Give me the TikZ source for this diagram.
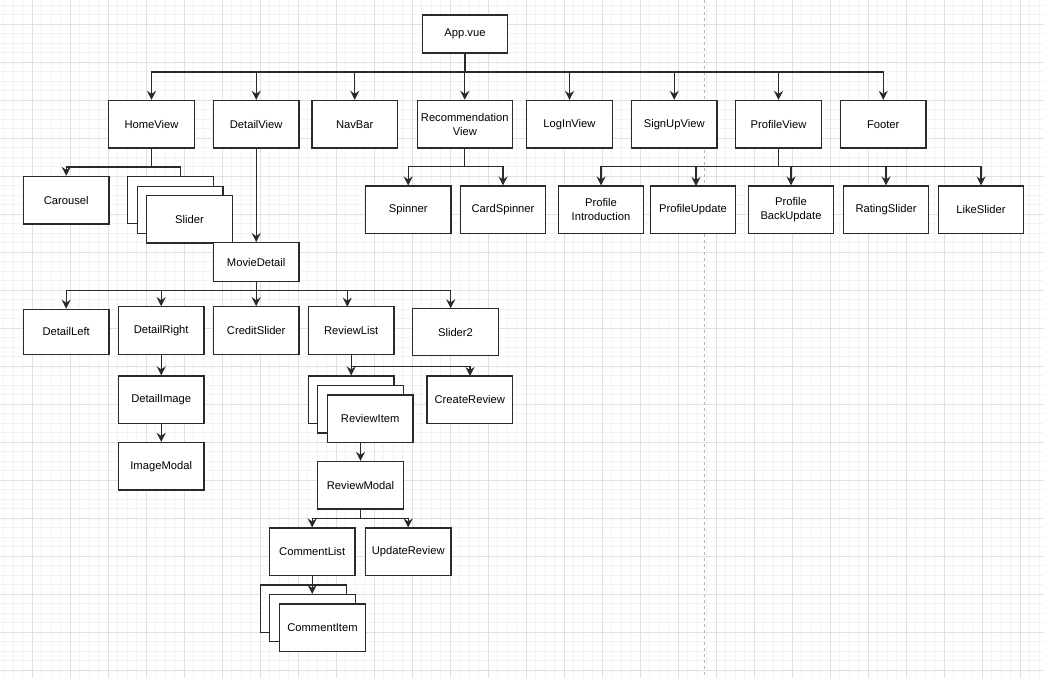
\documentclass[tikz,border=0pt]{standalone}
\usepackage{fontspec}
\setmainfont{Liberation Sans}
\usetikzlibrary{arrows.meta}
\definecolor{gridminor}{HTML}{F3F3F3}
\definecolor{gridmajor}{HTML}{E1E1E1}
\definecolor{ink}{HTML}{2A2A2A}
\tikzset{
  box/.style={draw=ink, line width=1.2pt, fill=white, minimum width=85.6pt, minimum height=47.5pt,
    inner sep=0pt, align=center, text=black, font=\fontsize{11.2}{13.7}\selectfont},
  stackbox/.style={draw=ink, line width=1.2pt, fill=white, minimum width=85.6pt, minimum height=47.3pt, inner sep=0pt},
  conn/.style={draw=ink, line width=1.2pt, -{Stealth[length=9pt,width=9pt,inset=3pt]}},
  plain/.style={draw=ink, line width=1.2pt},
}
\begin{document}
\begin{tikzpicture}[x=1pt,y=-1pt]
\fill[white] (0,0) rectangle (1044,678);
\useasboundingbox (0,0) rectangle (1044,678);
% grid
\foreach \i in {0,...,109} \draw[gridminor, line width=0.7pt] ({3.8+9.5*\i},0) -- ({3.8+9.5*\i},678);
\foreach \i in {0,...,70} \draw[gridminor, line width=0.7pt] (0,{5.3+9.5*\i}) -- (1044,{5.3+9.5*\i});
\foreach \i in {0,...,26} \draw[gridmajor, line width=0.8pt] ({32.3+38*\i},0) -- ({32.3+38*\i},678);
\foreach \i in {0,...,17} \draw[gridmajor, line width=0.8pt] (0,{24.3+38*\i}) -- (1044,{24.3+38*\i});
\draw[gray!55, line width=0.8pt, dash pattern=on 3pt off 3pt] (704.3,0) -- (704.3,678);

% row 0
\node[box, minimum height=38pt] (app) at (465,34) {App.vue};
% row 1
\node[box] (home) at (151.5,124.2) {HomeView};
\node[box] (detailv) at (256.2,124.2) {DetailView};
\node[box] (navbar) at (354.7,124.2) {NavBar};
\node[box, minimum width=95pt] (recv) at (464.8,124.2) {Recommendation\\View};
\node[box] (login) at (569.5,124.2) {LogInView};
\node[box] (signup) at (674.2,124.2) {SignUpView};
\node[box] (profv) at (778.5,124.2) {ProfileView};
\node[box] (footer) at (883.2,124.2) {Footer};
% row 2
\node[box] (carousel) at (66.2,200.2) {Carousel};
\node[stackbox] (slA) at (170.5,200.2) {};
\node[stackbox] (slB) at (180.2,210) {};
\node[box, minimum height=47.3pt] (slider) at (189.5,219.4) {Slider};
\node[box, minimum height=47.3pt] (spinner) at (408.2,209.7) {Spinner};
\node[box, minimum height=47.3pt] (cardsp) at (503,209.7) {CardSpinner};
\node[box, minimum height=47.3pt] (profintro) at (601,209.7) {Profile\\Introduction};
\node[box, minimum height=47.3pt] (profupd) at (693,209.7) {ProfileUpdate};
\node[box, minimum height=47.3pt] (profback) at (791,209.7) {Profile\\BackUpdate};
\node[box, minimum height=47.3pt] (rating) at (886,209.7) {RatingSlider};
\node[box, minimum height=47.3pt] (like) at (981,209.7) {LikeSlider};
% movie detail
\node[box, minimum height=38.6pt] (movie) at (256.2,262) {MovieDetail};
\node[box, minimum height=45pt] (dleft) at (66.2,331.8) {DetailLeft};
\node[box] (dright) at (161.2,330.5) {DetailRight};
\node[box] (credit) at (256.2,330.5) {CreditSlider};
\node[box] (revlist) at (351.2,330.5) {ReviewList};
\node[box] (slider2) at (455.5,332) {Slider2};
\node[box] (dimage) at (161.2,399.7) {DetailImage};
\node[box] (imodal) at (161.2,466.2) {ImageModal};
% review items
\node[stackbox] (riA) at (351.2,399.7) {};
\node[stackbox] (riB) at (360.5,409.4) {};
\node[box, minimum height=47.3pt] (ritem) at (370.2,418.7) {ReviewItem};
\node[box, minimum height=47.3pt] (create) at (469.8,399.7) {CreateReview};
\node[box] (rmodal) at (360.5,485.2) {ReviewModal};
\node[box, minimum height=47.3pt] (clist) at (312.2,551.7) {CommentList};
\node[box, minimum height=47.3pt] (update) at (408.2,551.7) {UpdateReview};
% comment items
\node[stackbox] (ciA) at (303.5,608.7) {};
\node[stackbox] (ciB) at (312.3,618.2) {};
\node[box, minimum height=47.3pt] (citem) at (322.5,627.7) {CommentItem};

% connectors
\foreach \n in {home,detailv,navbar,recv,login,signup,profv,footer}
  \draw[conn] (app.south) -- (app.south |- 0,72) -| (\n.north);

\coordinate (slTop) at (180.3,176.3);
\draw[conn] (home.south) -- (home.south |- 0,167) -| (carousel.north);
\draw[plain] (home.south) -- (home.south |- 0,167) -| (slTop);

\draw[conn] (detailv.south) -- (movie.north);

\draw[conn] (recv.south) -- (recv.south |- 0,166.7) -| (spinner.north);
\draw[conn] (recv.south) -- (recv.south |- 0,166.7) -| (cardsp.north);

\coordinate (puTop) at (696,186);
\foreach \n in {profintro.north,puTop,profback.north,rating.north,like.north}
  \draw[conn] (profv.south) -- (profv.south |- 0,166.7) -| (\n);

\coordinate (rlTop) at (347.3,306.7);
\coordinate (s2Top) at (450.7,308.3);
\foreach \n in {dleft.north,dright.north,credit.north,rlTop,s2Top}
  \draw[conn] (movie.south) -- (movie.south |- 0,290.7) -| (\n);

\draw[conn] (dright.south) -- (dimage.north);
\draw[conn] (dimage.south) -- (imodal.north);

\coordinate (crTop) at (470,376);
\draw[conn] (revlist.south) -- (revlist.south |- 0,366.7) -| (riA.north);
\draw[conn] (revlist.south) -- (revlist.south |- 0,366.7) -| (crTop);

\draw[conn] (ritem.south -| rmodal.north) -- (rmodal.north);

\draw[conn] (rmodal.south) -- (rmodal.south |- 0,518.3) -| (clist.north);
\draw[conn] (rmodal.south) -- (rmodal.south |- 0,518.3) -| (update.north);

\draw[conn] (clist.south) -- (ciB.north -| clist.south);
\end{tikzpicture}
\end{document}
